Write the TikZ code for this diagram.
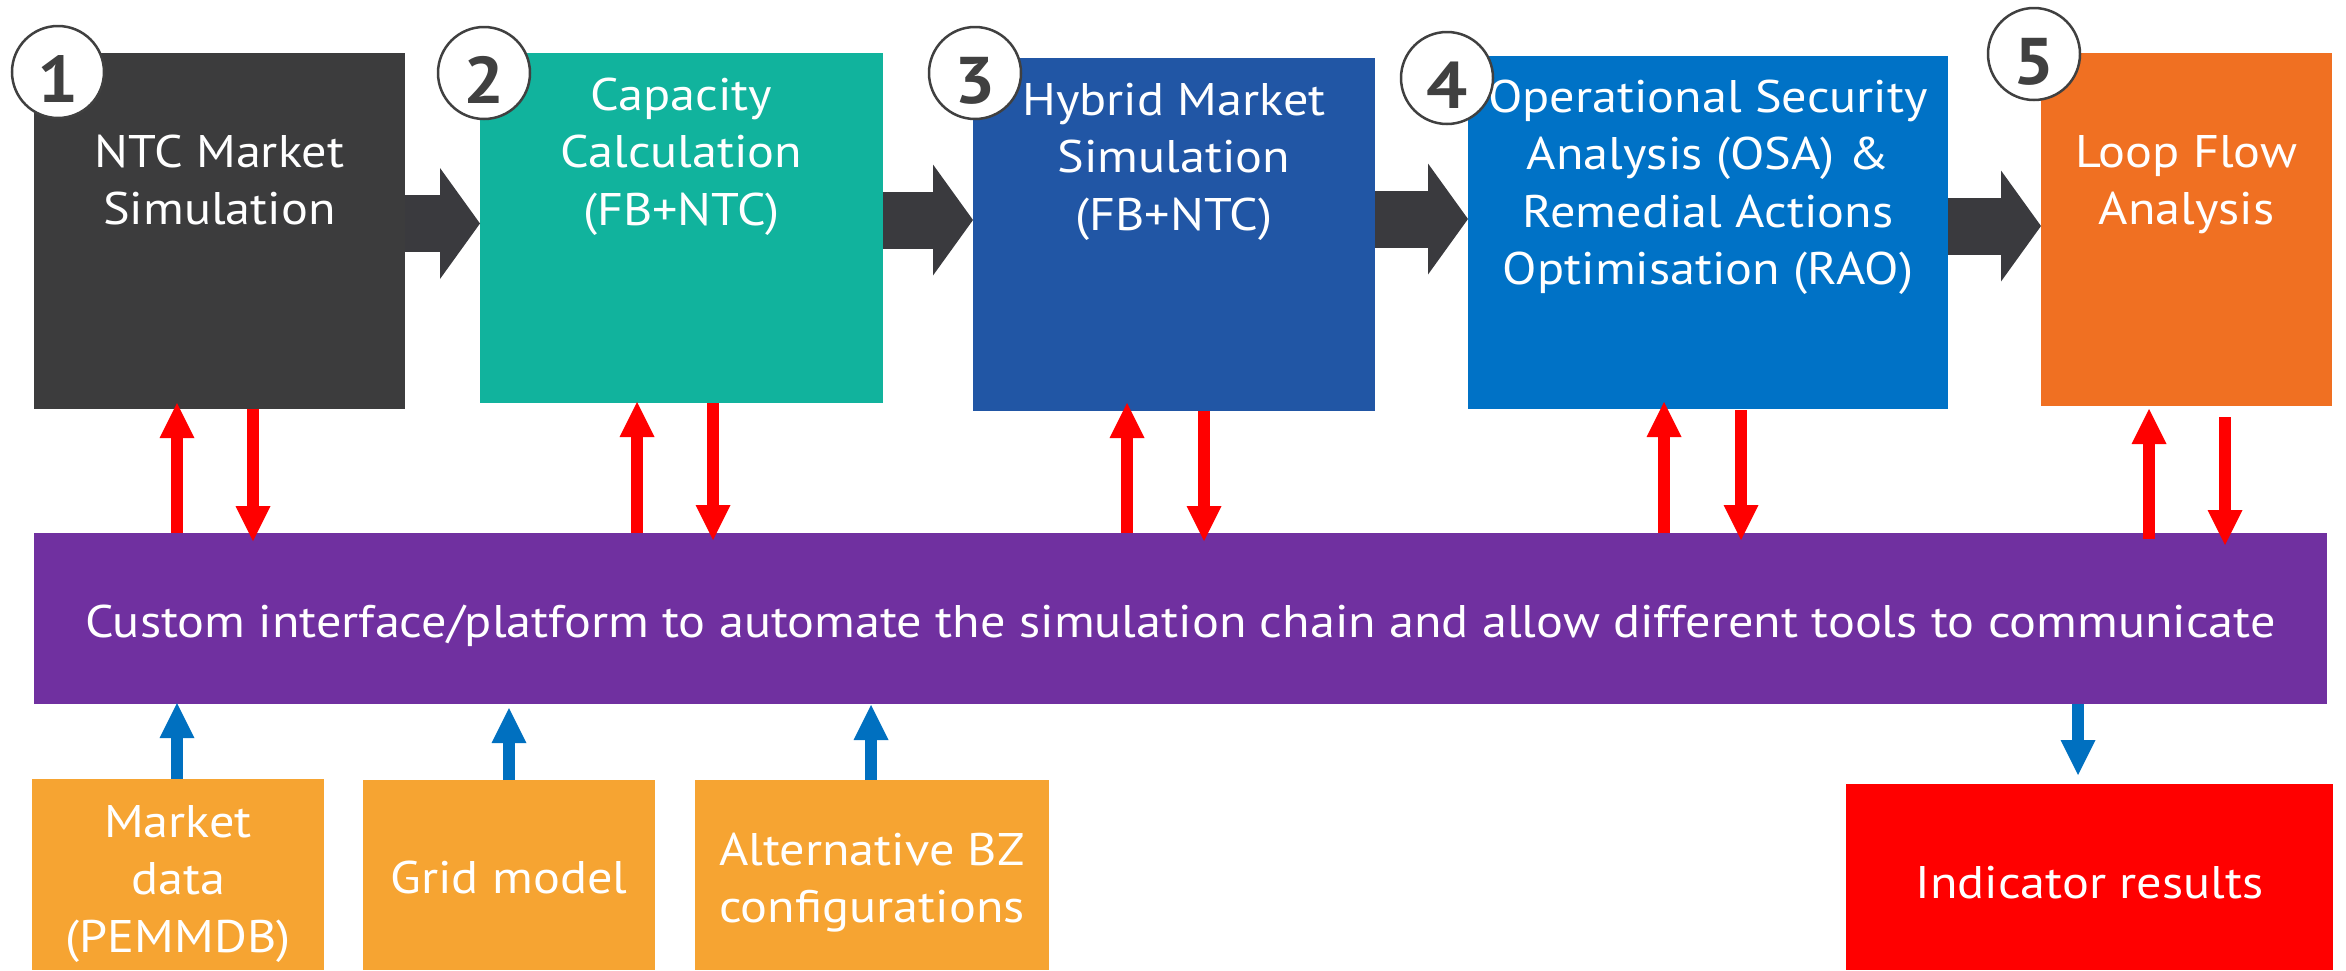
\documentclass[tikz,border=0pt]{standalone}
\usepackage{fontspec}
\setmainfont{PT Sans}[FakeStretch=1.1]
\usetikzlibrary{arrows.meta}
\definecolor{cdark}{RGB}{60,60,61}
\definecolor{cteal}{RGB}{17,179,157}
\definecolor{cblueA}{RGB}{33,86,165}
\definecolor{cblueB}{RGB}{0,114,198}
\definecolor{corange}{RGB}{240,112,34}
\definecolor{cpurple}{RGB}{112,48,160}
\definecolor{clight}{RGB}{246,164,50}
\definecolor{cred}{RGB}{255,0,0}
\definecolor{carrow}{RGB}{58,58,62}
\definecolor{cbluearr}{RGB}{0,112,192}
\definecolor{cring}{RGB}{64,64,64}
\tikzset{
  box/.style={rectangle, draw=none, inner sep=0pt, outer sep=0pt},
  txt/.style={inner sep=0pt, outer sep=0pt, anchor=north, align=center, text=white,
    font=\fontsize{45.7}{57.5}\selectfont},
  numcircle/.style={circle, draw=cring, line width=2.5pt, fill=white, minimum size=92pt,
    inner sep=0pt, text=cring, font=\fontsize{66}{70}\selectfont\bfseries},
  bigarrow/.style={draw=carrow, line width=57pt,
    -{Triangle[width=111pt,length=40pt,line width=0pt]}},
  redarrow/.style={draw=cred, line width=12pt,
    -{Triangle[width=35pt,length=35pt,line width=0pt]}},
  bluearrow/.style={draw=cbluearr, line width=12pt,
    -{Triangle[width=35pt,length=35pt,line width=0pt]}},
}
\newcommand{\fl}{\rule{0pt}{40pt}}
\newcommand{\dg}[1]{\smash{\raisebox{-30pt}{#1}}}
\begin{document}
\begin{tikzpicture}[x=1pt,y=-1pt]
\useasboundingbox (0,0) rectangle (2346,970);
% main boxes
\node[box, fill=cdark, minimum width=371pt, minimum height=356pt] (b1) at (219.5,231) {};
\node[box, fill=cteal, minimum width=403pt, minimum height=350pt] (b2) at (681.5,228) {};
\node[box, fill=cblueA, minimum width=402pt, minimum height=353pt] (b3) at (1174,234.5) {};
\node[box, fill=cblueB, minimum width=480pt, minimum height=353pt] (b4) at (1708,232.5) {};
\node[box, fill=corange, minimum width=291pt, minimum height=353pt] (b5) at (2186.5,229.5) {};
% bar and lower boxes
\node[box, fill=cpurple, minimum width=2293pt, minimum height=171pt] (bar) at (1180.5,618.5) {};
\node[box, fill=clight, minimum width=292pt, minimum height=191pt] (m1) at (178,874.5) {};
\node[box, fill=clight, minimum width=292pt, minimum height=190pt] (m2) at (509,875) {};
\node[box, fill=clight, minimum width=354pt, minimum height=190pt] (m3) at (872,875) {};
\node[box, fill=cred, minimum width=487pt, minimum height=186pt] (ind) at (2089.5,877) {};
% texts
\node[txt] (t1) at (219.5,127) {\fl NTC Market\\Simulation};
\node[txt] (t2) at (681.5,70) {\fl Capacity\\Calculation\\(FB+NTC)};
\node[txt] (t3) at (1174,75) {\fl Hybrid Market\\Simulation\\(FB+NTC)};
\node[txt] (t4) at (1708,72) {\fl Operational Security\\Analysis (OSA) \&\\Remedial Actions\\Optimisation (RAO)};
\node[txt] (t5) at (2186.5,127) {\fl Loop Flow\\Analysis};
\node[txt] (tbar) at (1180.5,597) {\fl Custom interface/platform to automate the simulation chain and allow different tools to communicate};
\node[txt] (tm1) at (178,797) {\fl Market\\data\\(PEMMDB)};
\node[txt] (tm2) at (509,853) {\fl Grid model};
\node[txt] (tm3) at (872,825) {\fl Alternative BZ\\configurations};
\node[txt] (tind) at (2089.5,858) {\fl Indicator results};
% big arrows
\draw[bigarrow] (b1.east |- 0,223.5) -- (b2.west |- 0,223.5);
\draw[bigarrow] (b2.east |- 0,220) -- (b3.west |- 0,220);
\draw[bigarrow] (b3.east |- 0,219) -- (b4.west |- 0,219);
\draw[bigarrow] (b4.east |- 0,226) -- (b5.west |- 0,226);
% red arrows
\draw[redarrow, shorten >=-6pt] (bar.north -| 177,0) -- (b1.south -| 177,0);
\draw[redarrow, shorten >=-8pt] (b1.south -| 253,0) -- (bar.north -| 253,0);
\draw[redarrow, shorten >=-1pt] (bar.north -| 637,0) -- (b2.south -| 637,0);
\draw[redarrow, shorten >=-7pt] (b2.south -| 713,0) -- (bar.north -| 713,0);
\draw[redarrow, shorten >=-8pt] (bar.north -| 1127,0) -- (b3.south -| 1127,0);
\draw[redarrow, shorten >=-8pt] (b3.south -| 1204,0) -- (bar.north -| 1204,0);
\draw[redarrow, shorten >=-7pt] (bar.north -| 1664,0) -- (b4.south -| 1664,0);
\draw[redarrow, shorten >=-7pt, shorten <=1pt] (b4.south -| 1741,0) -- (bar.north -| 1741,0);
\draw[redarrow, shorten <=-6pt, shorten >=3pt] (bar.north -| 2149,0) -- (b5.south -| 2149,0);
\draw[redarrow, shorten <=11pt, shorten >=-12pt] (b5.south -| 2225,0) -- (bar.north -| 2225,0);
% blue arrows
\draw[bluearrow, shorten >=-1pt] (m1.north -| 177,0) -- (bar.south -| 177,0);
\draw[bluearrow, shorten >=4pt] (m2.north -| 509,0) -- (bar.south -| 509,0);
\draw[bluearrow, shorten >=1pt] (m3.north -| 871,0) -- (bar.south -| 871,0);
\draw[bluearrow, shorten >=9pt] (bar.south -| 2078,0) -- (ind.north -| 2078,0);
% numbered circles
\node[numcircle] (n1) at (58,72) {\dg{1}};
\node[numcircle] (n2) at (484,73) {\dg{2}};
\node[numcircle] (n3) at (975,73) {\dg{3}};
\node[numcircle] (n4) at (1447,78) {\dg{4}};
\node[numcircle] (n5) at (2034,54) {\dg{5}};
\end{tikzpicture}
\end{document}
